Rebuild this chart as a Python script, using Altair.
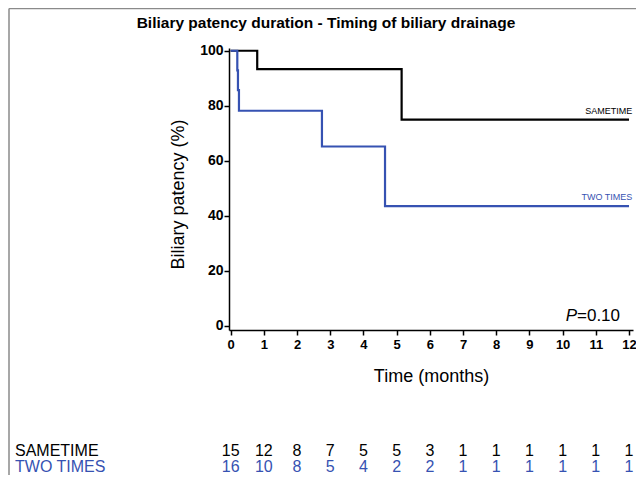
import altair as alt
import pandas as pd

# ---- data ----
groups = ["SAMETIME", "TWO TIMES"]
colors = ["#000000", "#3652b2"]

same_time = [0, 0.8, 5.15, 12]
same_surv = [100, 93.3, 75, 75]
two_time = [0, 0.2, 0.22, 0.25, 2.75, 4.65, 12]
two_surv = [100, 92.9, 85.7, 78.2, 65.2, 43.5, 43.5]

risk_times = list(range(13))
risk_same = [15, 12, 8, 7, 5, 5, 3, 1, 1, 1, 1, 1, 1]
risk_two = [16, 10, 8, 5, 4, 2, 2, 1, 1, 1, 1, 1, 1]

x_ticks = list(range(13))
y_ticks = [0, 20, 40, 60, 80, 100]

FONT = "Liberation Sans"

curves = pd.DataFrame(
    {"time": same_time + two_time,
     "surv": same_surv + two_surv,
     "group": [groups[0]] * len(same_time) + [groups[1]] * len(two_time)}
)
ends = pd.DataFrame({"time": [12.1, 12.1], "surv": [same_surv[-1], two_surv[-1]], "group": groups})
risk_a = pd.DataFrame({"time": risk_times, "n": risk_same})
risk_b = pd.DataFrame({"time": risk_times, "n": risk_two})
one = pd.DataFrame({"a": [0]})

ROW_A_Y = 403
ROW_B_Y = 419

color = alt.Color("group:N", scale=alt.Scale(domain=groups, range=colors), legend=None)

X = alt.X(
    "time:Q",
    scale=alt.Scale(domain=[-0.05, 12.12], nice=False, zero=False),
    axis=alt.Axis(values=x_ticks, title="Time (months)", format="d"),
)
Y = alt.Y(
    "surv:Q",
    scale=alt.Scale(domain=[-1.5, 101], nice=False, zero=False),
    axis=alt.Axis(values=y_ticks, title="Biliary patency (%)", titleX=-51, titleY=146,
                  titleAngle=270, titleBaseline="middle", titleAlign="center"),
)

lines = alt.Chart(curves).mark_line(interpolate="step-after", strokeWidth=2.2).encode(
    x=X, y=Y, color=color, detail="group:N"
)

end_labels = alt.Chart(ends).mark_text(
    align="right", baseline="bottom", dy=-4, fontSize=9, font=FONT
).encode(x=X, y=Y, text="group:N", color=color)

p_italic = alt.Chart(one).mark_text(
    text="P", align="right", baseline="alphabetic", fontSize=17, fontStyle="italic", font=FONT
).encode(x=alt.value(348), y=alt.value(273))
p_value = alt.Chart(one).mark_text(
    text="=0.10", align="left", baseline="alphabetic", fontSize=17, font=FONT
).encode(x=alt.value(348), y=alt.value(273))

title = alt.Chart(one).mark_text(
    text="Biliary patency duration - Timing of biliary drainage",
    align="center", baseline="middle", fontSize=15.5, fontWeight="bold", font=FONT
).encode(x=alt.value(97), y=alt.value(-25))

row_a_label = alt.Chart(one).mark_text(
    text=groups[0], align="left", baseline="middle", fontSize=16, font=FONT, color=colors[0]
).encode(x=alt.value(-214), y=alt.value(ROW_A_Y))
row_b_label = alt.Chart(one).mark_text(
    text=groups[1], align="left", baseline="middle", fontSize=16, font=FONT, color=colors[1]
).encode(x=alt.value(-214), y=alt.value(ROW_B_Y))

row_a = alt.Chart(risk_a).mark_text(
    align="center", baseline="middle", fontSize=16, font=FONT, color=colors[0]
).encode(x=X, y=alt.value(ROW_A_Y), text="n:Q")
row_b = alt.Chart(risk_b).mark_text(
    align="center", baseline="middle", fontSize=16, font=FONT, color=colors[1]
).encode(x=X, y=alt.value(ROW_B_Y), text="n:Q")

border_left = alt.Chart(one).mark_rule(color="#8a8a8a", strokeWidth=1.5).encode(
    x=alt.value(-220), y=alt.value(-39.5), y2=alt.value(428)
)
border_top = alt.Chart(one).mark_rule(color="#8a8a8a", strokeWidth=1.5).encode(
    x=alt.value(-220), x2=alt.value(420), y=alt.value(-39.5)
)

chart = alt.layer(
    lines, end_labels, p_italic, p_value, title,
    row_a_label, row_b_label, row_a, row_b, border_left, border_top
).properties(
    width=404, height=282,
    autosize=alt.AutoSizeParams(type="none"),
    padding={"left": 221, "top": 40, "right": 3, "bottom": 145},
).configure_view(stroke=None).configure_axis(
    grid=False,
    domainColor="#000000", domainWidth=1.5,
    tickColor="#000000", tickWidth=1.5, tickSize=5,
    labelFont=FONT, labelFontWeight="bold", labelColor="#000000",
    titleFont=FONT, titleFontWeight="normal", titleFontSize=18, titleColor="#000000",
).configure_axisX(
    labelFontSize=13, labelPadding=3, titlePadding=16,
).configure_axisY(
    labelFontSize=14, labelPadding=1,
)

chart.save("out.html", embed_options={"renderer": "svg", "actions": False})
